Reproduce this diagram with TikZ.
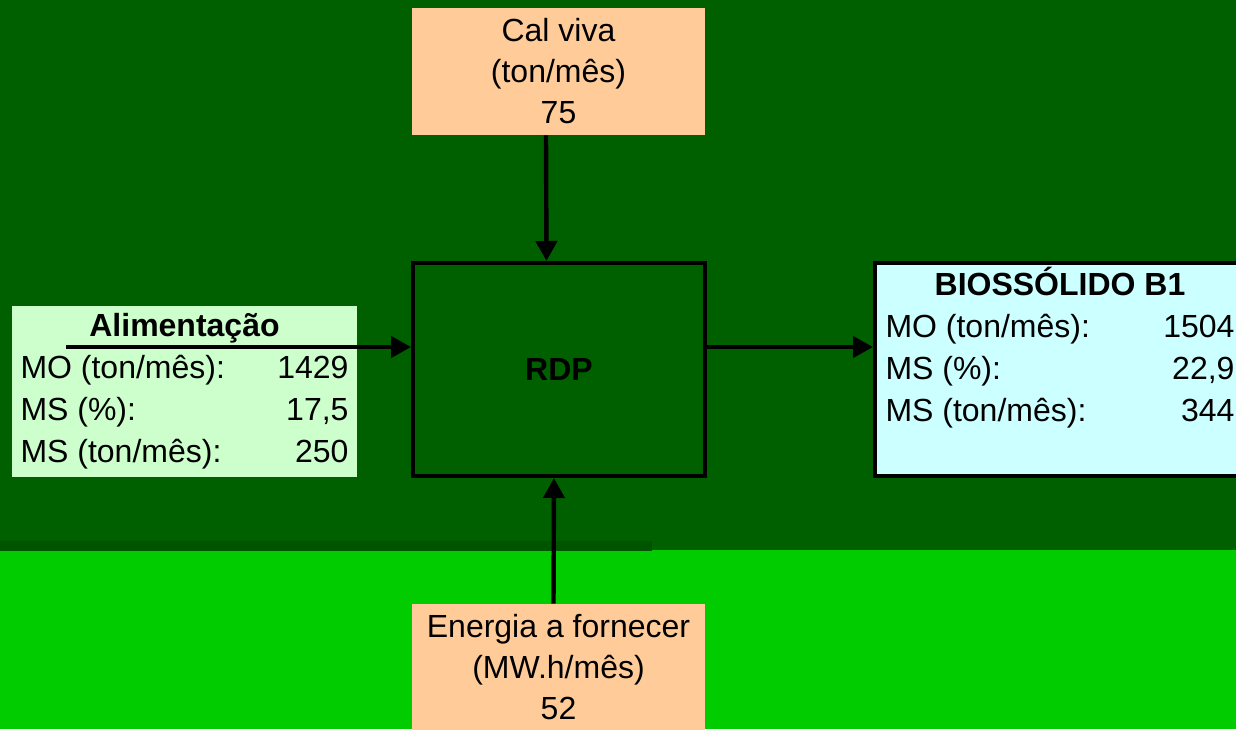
\documentclass[tikz,border=0pt]{standalone}
\usepackage{fontspec}
\setmainfont{Liberation Sans}
\usepackage{xcolor}
\definecolor{rdpdark}{HTML}{006000}
\definecolor{rdpstrip}{HTML}{005400}
\definecolor{rdplight}{HTML}{00CC00}
\definecolor{rdppeach}{HTML}{FFCC99}
\definecolor{rdpmint}{HTML}{CCFFCC}
\definecolor{rdpice}{HTML}{CCFFFF}
\usepackage{tikz}
\usetikzlibrary{arrows.meta}

\begin{document}
\begin{tikzpicture}[x=0.5pt,y=-0.5pt,
  entry/.style={fill=rdppeach,align=center,inner sep=0pt,
    minimum width=146.5pt,minimum height=63.5pt,font=\fontsize{16}{20.5}\selectfont},
  feedbox/.style={fill=rdpmint,inner sep=0pt,
    minimum width=172.5pt,minimum height=85.5pt,font=\fontsize{16}{21}\selectfont},
  unit/.style={draw=black,line width=2pt,fill=rdpdark,inner sep=0pt,
    minimum width=146pt,minimum height=106.5pt,font=\fontsize{16}{21}\selectfont},
  product/.style={draw=black,line width=2pt,fill=rdpice,inner sep=0pt,
    minimum width=185pt,minimum height=106.5pt,font=\fontsize{16}{21}\selectfont},
  flow/.style={-{Triangle[width=10.5pt,length=10pt]},line width=2.2pt,black}]
  \useasboundingbox (0,0) rectangle (1236,729);
  \clip (0,0) rectangle (1236,729);
  \fill[rdpdark]  (0,0) rectangle (1236,550);
  \fill[rdplight] (0,550) rectangle (1236,729);
  \fill[rdpstrip] (0,541) rectangle (652,551);
  \node[entry]   (cal) at (558.5,71.5)  {Cal viva\\(ton/mês)\\75};
  \node[unit]    (rdp) at (559,369.5)   {\textbf{RDP}};
  \node[entry]   (en)  at (558.5,667.5) {Energia a fornecer\\(MW.h/mês)\\52};
  \node[feedbox] (alim) at (184.5,391.5) {\begin{tabular*}{164pt}{@{}l@{\extracolsep{\fill}}r@{}}
    \multicolumn{2}{@{}c@{}}{\textbf{Alimentação}}\\
    MO (ton/mês): & 1429\\
    MS (\%):      & 17,5\\
    MS (ton/mês): & 250
  \end{tabular*}};
  \node[product] (bio) at (1060,369.5)  {\begin{tabular*}{174.5pt}{@{}l@{\extracolsep{\fill}}r@{}}
    \multicolumn{2}{@{}c@{}}{\textbf{BIOSSÓLIDO B1}}\\
    MO (ton/mês): & 1504\\
    MS (\%):      & 22,9\\
    MS (ton/mês): & 344\\[19.5pt]
  \end{tabular*}};
  \coordinate (feed) at (66,347);
  \draw[flow] (feed) -- (feed -| rdp.west);
  \draw[flow] ([xshift=-6.25pt]cal.south) -- ([xshift=-6.25pt]rdp.north);
  \draw[flow] ([xshift=-2.5pt]en.north) -- ([xshift=-2.5pt]rdp.south);
  \draw[flow] ([yshift=11.25pt]rdp.east) -- ([yshift=11.25pt]bio.west);
\end{tikzpicture}
\end{document}
